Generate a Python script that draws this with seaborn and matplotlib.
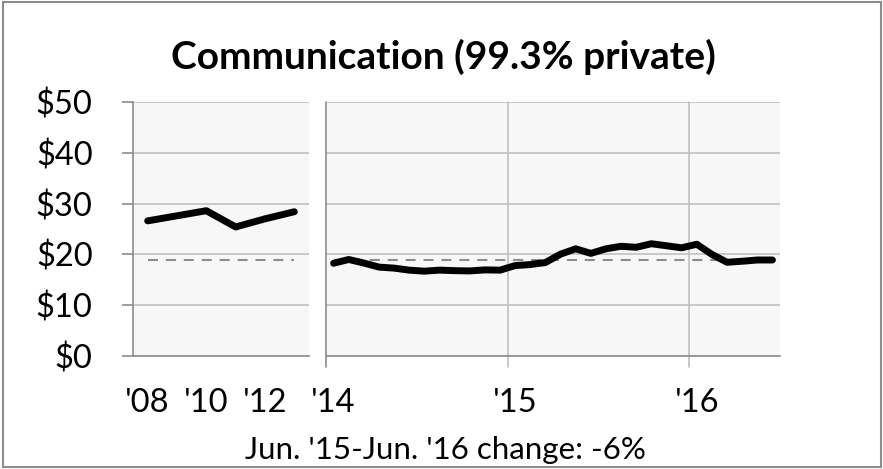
"""
Communication (99.3% private) - yıllık ve aylık seri, iki panel
"""
import matplotlib
matplotlib.use("Agg")
import matplotlib.pyplot as plt
import matplotlib.transforms as mtransforms
from matplotlib.patches import Rectangle
import seaborn as sns
import numpy as np
import pandas as pd

# yıllık seri 2008-2013
years = [2008, 2009, 2010, 2011, 2012, 2013]
annual_values = [26.6, 27.6, 28.6, 25.4, 27.0, 28.4]
annual_labels = {2008: "'08", 2010: "'10", 2012: "'12"}

# aylık seri Oca 2014 - Haz 2016
months = pd.period_range("2014-01", "2016-06", freq="M")
monthly_values = [18.25, 19.0, 18.3, 17.5, 17.3, 16.9, 16.7, 16.9, 16.8, 16.75,
                  16.95, 16.9, 17.8, 18.0, 18.4, 20.05, 21.1, 20.2, 21.1, 21.6,
                  21.4, 22.1, 21.7, 21.3, 22.0, 20.0, 18.45, 18.65, 18.9, 18.9]
reference_level = 18.9  # son değer, kesikli çizgi

title = "Communication (99.3% private)"
footnote = "Jun. '15-Jun. '16 change: -6%"
y_ticks = [0, 10, 20, 30, 40, 50]

sns.set_theme(style="white")
plt.rcParams["font.family"] = ["Lato", "DejaVu Sans"]

W, H = 883, 469
fig = plt.figure(figsize=(W / 100, H / 100), dpi=100)

panel_bg = "#F7F7F7"
grid_c = "#C0C0C0"
spine_c = "#8C8C8C"
dash_c = "#8C8C8C"
fs = 23.5

y0 = (H - 356) / H
hh = 254 / H
ax1 = fig.add_axes([133 / W, y0, 176 / W, hh])
ax2 = fig.add_axes([326 / W, y0, 454 / W, hh], sharey=ax1)

df_a = pd.DataFrame({"pos": np.arange(len(years)), "value": annual_values})
df_m = pd.DataFrame({"pos": np.arange(len(months)), "value": monthly_values})

for ax in (ax1, ax2):
    ax.set_facecolor(panel_bg)
    for s in ax.spines.values():
        s.set_visible(False)
    ax.set_ylim(0, 50)
    ax.set_yticks(y_ticks)
    ax.grid(axis="y", color=grid_c, lw=1.2, zorder=0)
    ax.grid(axis="x", visible=False)
    ax.spines["bottom"].set_visible(True)
    ax.spines["bottom"].set_color(spine_c)
    ax.spines["bottom"].set_linewidth(1.2)
    ax.set_axisbelow(True)

# sol panel - yıllık
sns.lineplot(data=df_a, x="pos", y="value", ax=ax1, color="black", lw=5,
             solid_capstyle="round", solid_joinstyle="round", zorder=3)
ax1.plot([df_a["pos"].iloc[0], df_a["pos"].iloc[-1]], [reference_level] * 2,
         color=dash_c, lw=1.5, ls=(0, (4.8, 3.8)), zorder=2)
ax1.set_xlim(-0.5, len(years) - 0.5)
lab_pos = [years.index(y) for y in annual_labels]
ax1.set_xticks(lab_pos, list(annual_labels.values()))
ax1.set_xticks(np.arange(len(years) + 1) - 0.5, minor=True)
ax1.tick_params(axis="x", which="major", length=0, pad=23, labelsize=fs, colors="black")
ax1.tick_params(axis="x", which="minor", direction="in", length=8, width=1.2, color=spine_c)
ax1.spines["left"].set_visible(True)
ax1.spines["left"].set_color(spine_c)
ax1.spines["left"].set_linewidth(1.2)
ax1.set_yticklabels([f"${v}" for v in y_ticks])
ax1.tick_params(axis="y", direction="out", length=8, width=1.2, color=spine_c,
                labelsize=fs, labelcolor="black", pad=21, left=True)
ax1.set_xlabel("")
ax1.set_ylabel("")

# sağ panel - aylık
sns.lineplot(data=df_m, x="pos", y="value", ax=ax2, color="black", lw=5,
             solid_capstyle="round", solid_joinstyle="round", zorder=3)
ax2.plot([df_m["pos"].iloc[0], df_m["pos"].iloc[-1]], [reference_level] * 2,
         color=dash_c, lw=1.5, ls=(0, (4.8, 3.8)), zorder=2)
ax2.set_xlim(-0.5, len(months) - 0.5)
jan_pos = [i for i, m in enumerate(months) if m.month == 1]
ax2.set_xticks(jan_pos, [f"'{months[i].year % 100:02d}" for i in jan_pos])
ax2.set_xticks(np.arange(len(months) + 1) - 0.5, minor=True)
ax2.tick_params(axis="x", which="major", length=0, pad=23, labelsize=fs, colors="black")
ax2.tick_params(axis="x", which="minor", direction="in", length=6, width=1.2, color=spine_c)
ax2.tick_params(axis="y", left=False, labelleft=False)
trans = mtransforms.blended_transform_factory(ax2.transData, ax2.transAxes)
for p in jan_pos:
    c = spine_c if p == 0 else grid_c
    ax2.plot([p - 0.5, p - 0.5], [-11 / 254, 1], color=c, lw=1.2,
             transform=trans, clip_on=False, zorder=1)
ax2.set_xlabel("")
ax2.set_ylabel("")

fig.text(443 / W, (H - 69) / H, title, ha="center", va="baseline",
         fontsize=28, fontweight="bold", color="black")
fig.text(445 / W, (H - 459) / H, footnote, ha="center", va="baseline",
         fontsize=22.5, color="black")

fig.add_artist(Rectangle((2.5 / W, 2.5 / H), (W - 5) / W, (H - 5) / H,
                         transform=fig.transFigure, fill=False,
                         edgecolor="#8C8C8C", lw=1.5))

fig.savefig("out.png", dpi=100)
plt.close(fig)
